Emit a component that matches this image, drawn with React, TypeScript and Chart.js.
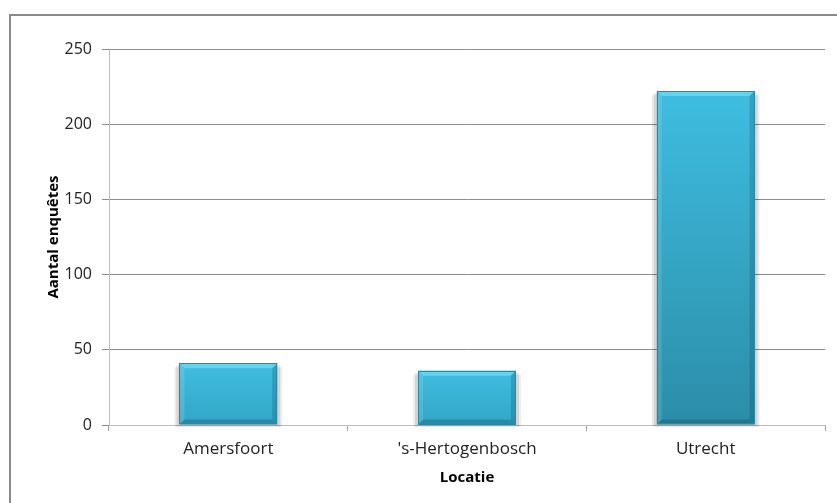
import React, { useEffect, useRef } from "react";
import { Chart, registerables } from "chart.js";

Chart.register(...registerables);

const categories = ["Amersfoort", "'s-Hertogenbosch", "Utrecht"];
const enquetes = [41, 36, 222];
const yTicks = [0, 50, 100, 150, 200, 250];

const FONT = "'Open Sans', 'Noto Sans', sans-serif";

const frame = {
  id: "frame",
  beforeDraw(chart: any) {
    const ctx = chart.ctx;
    ctx.save();
    ctx.fillStyle = "#ffffff";
    ctx.fillRect(0, 0, chart.width, chart.height);
    ctx.strokeStyle = "#8a8a8a";
    ctx.lineWidth = 2;
    ctx.strokeRect(10, 15, chart.width + 20, chart.height + 20);
    ctx.restore();
  },
};

const bevel = {
  id: "bevel",
  beforeDatasetsDraw(chart: any) {
    const ctx = chart.ctx;
    const meta = chart.getDatasetMeta(0);
    ctx.save();
    meta.data.forEach((bar: any) => {
      const l = bar.x - bar.width / 2;
      const t = bar.y;
      const h = bar.base - bar.y;
      ctx.fillStyle = "rgba(0,0,0,0.10)";
      ctx.fillRect(l - 3, t + 2, bar.width + 6, h);
      ctx.fillStyle = "rgba(0,0,0,0.07)";
      ctx.fillRect(l - 5, t + 4, bar.width + 10, h - 2);
    });
    ctx.restore();
  },
  afterDatasetsDraw(chart: any) {
    const ctx = chart.ctx;
    const meta = chart.getDatasetMeta(0);
    ctx.save();
    meta.data.forEach((bar: any) => {
      const l = bar.x - bar.width / 2;
      const r = bar.x + bar.width / 2;
      const t = bar.y;
      const b = bar.base;
      const d = 5;
      ctx.fillStyle = "#63d3ef";
      ctx.beginPath();
      ctx.moveTo(l, t);
      ctx.lineTo(r, t);
      ctx.lineTo(r - d, t + d);
      ctx.lineTo(l + d, t + d);
      ctx.closePath();
      ctx.fill();
      ctx.fillStyle = "rgba(255,255,255,0.12)";
      ctx.beginPath();
      ctx.moveTo(l, t);
      ctx.lineTo(l + d, t + d);
      ctx.lineTo(l + d, b - d);
      ctx.lineTo(l, b);
      ctx.closePath();
      ctx.fill();
      ctx.fillStyle = "rgba(0,40,60,0.18)";
      ctx.beginPath();
      ctx.moveTo(r, t);
      ctx.lineTo(r - d, t + d);
      ctx.lineTo(r - d, b - d);
      ctx.lineTo(r, b);
      ctx.closePath();
      ctx.fill();
      ctx.fillStyle = "rgba(0,40,60,0.22)";
      ctx.beginPath();
      ctx.moveTo(l, b);
      ctx.lineTo(r, b);
      ctx.lineTo(r - d, b - d);
      ctx.lineTo(l + d, b - d);
      ctx.closePath();
      ctx.fill();
      ctx.strokeStyle = "#2a88a3";
      ctx.lineWidth = 1;
      ctx.strokeRect(Math.round(l) + 0.5, Math.round(t) + 0.5, Math.round(r - l) - 1, Math.round(b - t) - 1);
    });
    ctx.restore();
  },
};

export default function App() {
  const ref = useRef<HTMLCanvasElement | null>(null);

  useEffect(() => {
    if (!ref.current) return;
    const chart = new Chart(ref.current, {
      type: "bar",
      data: {
        labels: categories,
        datasets: [
          {
            label: "Aantal enquêtes",
            data: enquetes,
            backgroundColor: (c: any) => {
              const ch = c.chart;
              const ys = ch.scales && ch.scales.y;
              if (!ys || c.raw === undefined) return "#38b3d6";
              const top = ys.getPixelForValue(c.raw);
              const base = ys.getPixelForValue(0);
              if (!isFinite(top) || !isFinite(base) || base - top < 1) return "#38b3d6";
              const g = ch.ctx.createLinearGradient(0, top, 0, base);
              g.addColorStop(0, "#3fbde0");
              g.addColorStop(1, base - top > 150 ? "#2b8da8" : "#33a6c6");
              return g;
            },
            borderWidth: 0,
            categoryPercentage: 1,
            barPercentage: 0.41,
          },
        ],
      },
      options: {
        animation: false,
        responsive: false,
        maintainAspectRatio: false,
        layout: { padding: { left: 0, top: 49, right: 12, bottom: 0 } },
        plugins: {
          legend: { display: false },
          tooltip: { enabled: false },
        },
        scales: {
          x: {
            afterFit: (s: any) => {
              s.height = 78;
            },
            grid: {
              display: true,
              drawOnChartArea: false,
              drawTicks: true,
              tickLength: 6,
              color: "#a0a0a0",
              offset: true,
            },
            border: { display: true, color: "#bdbdbd", width: 1 },
            ticks: {
              color: "#222",
              font: { family: FONT, size: 17 },
              padding: 8,
              maxRotation: 0,
            },
            title: {
              display: true,
              text: "Locatie",
              color: "#000",
              font: { family: FONT, size: 15, weight: "bold" },
              padding: { top: 0, bottom: 16 },
            },
          },
          y: {
            min: 0,
            max: 250,
            afterFit: (s: any) => {
              s.width = 109;
            },
            afterBuildTicks: (s: any) => {
              s.ticks = yTicks.map((v) => ({ value: v }));
            },
            grid: {
              color: "#8c8c8c",
              lineWidth: 1,
              drawTicks: true,
              tickLength: 7,
            },
            border: { display: true, color: "#bdbdbd", width: 1 },
            ticks: {
              color: "#222",
              font: { family: FONT, size: 16 },
              padding: 10,
            },
            title: {
              display: true,
              text: "Aantal enquêtes",
              color: "#000",
              font: { family: FONT, size: 15, weight: "bold" },
              padding: { top: 45, bottom: 0 },
            },
          },
        },
      },
      plugins: [frame, bevel],
    } as any);
    return () => chart.destroy();
  }, []);

  return (
    <div style={{ position: "fixed", left: 0, top: 0, width: 837, height: 503 }}>
      <canvas ref={ref} width={837} height={503} style={{ width: 837, height: 503, display: "block" }} />
    </div>
  );
}
